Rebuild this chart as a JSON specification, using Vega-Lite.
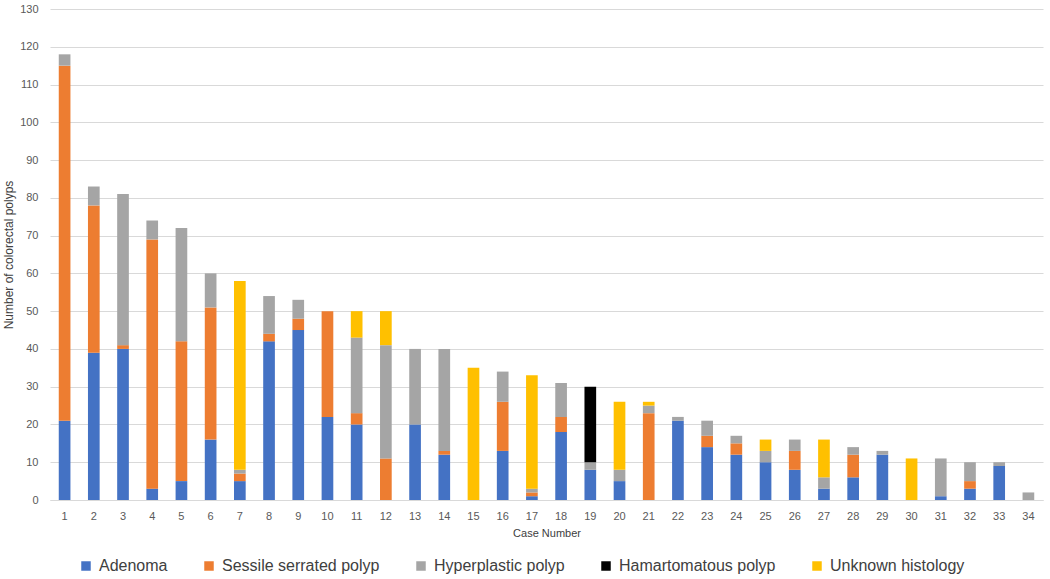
{
  "$schema": "https://vega.github.io/schema/vega-lite/v6.json",
  "width": 993,
  "height": 491,
  "autosize": "none",
  "padding": {"left": 50, "top": 9, "right": 7, "bottom": 79},
  "background": "white",
  "data": {"values": [
    {"case": 1, "type": "Adenoma", "count": 21}, {"case": 1, "type": "Sessile serrated polyp", "count": 94}, {"case": 1, "type": "Hyperplastic polyp", "count": 3},
    {"case": 2, "type": "Adenoma", "count": 39}, {"case": 2, "type": "Sessile serrated polyp", "count": 39}, {"case": 2, "type": "Hyperplastic polyp", "count": 5},
    {"case": 3, "type": "Adenoma", "count": 40}, {"case": 3, "type": "Sessile serrated polyp", "count": 1}, {"case": 3, "type": "Hyperplastic polyp", "count": 40},
    {"case": 4, "type": "Adenoma", "count": 3}, {"case": 4, "type": "Sessile serrated polyp", "count": 66}, {"case": 4, "type": "Hyperplastic polyp", "count": 5},
    {"case": 5, "type": "Adenoma", "count": 5}, {"case": 5, "type": "Sessile serrated polyp", "count": 37}, {"case": 5, "type": "Hyperplastic polyp", "count": 30},
    {"case": 6, "type": "Adenoma", "count": 16}, {"case": 6, "type": "Sessile serrated polyp", "count": 35}, {"case": 6, "type": "Hyperplastic polyp", "count": 9},
    {"case": 7, "type": "Adenoma", "count": 5}, {"case": 7, "type": "Sessile serrated polyp", "count": 2}, {"case": 7, "type": "Hyperplastic polyp", "count": 1}, {"case": 7, "type": "Unknown histology", "count": 50},
    {"case": 8, "type": "Adenoma", "count": 42}, {"case": 8, "type": "Sessile serrated polyp", "count": 2}, {"case": 8, "type": "Hyperplastic polyp", "count": 10},
    {"case": 9, "type": "Adenoma", "count": 45}, {"case": 9, "type": "Sessile serrated polyp", "count": 3}, {"case": 9, "type": "Hyperplastic polyp", "count": 5},
    {"case": 10, "type": "Adenoma", "count": 22}, {"case": 10, "type": "Sessile serrated polyp", "count": 28},
    {"case": 11, "type": "Adenoma", "count": 20}, {"case": 11, "type": "Sessile serrated polyp", "count": 3}, {"case": 11, "type": "Hyperplastic polyp", "count": 20}, {"case": 11, "type": "Unknown histology", "count": 7},
    {"case": 12, "type": "Sessile serrated polyp", "count": 11}, {"case": 12, "type": "Hyperplastic polyp", "count": 30}, {"case": 12, "type": "Unknown histology", "count": 9},
    {"case": 13, "type": "Adenoma", "count": 20}, {"case": 13, "type": "Hyperplastic polyp", "count": 20},
    {"case": 14, "type": "Adenoma", "count": 12}, {"case": 14, "type": "Sessile serrated polyp", "count": 1}, {"case": 14, "type": "Hyperplastic polyp", "count": 27},
    {"case": 15, "type": "Unknown histology", "count": 35},
    {"case": 16, "type": "Adenoma", "count": 13}, {"case": 16, "type": "Sessile serrated polyp", "count": 13}, {"case": 16, "type": "Hyperplastic polyp", "count": 8},
    {"case": 17, "type": "Adenoma", "count": 1}, {"case": 17, "type": "Sessile serrated polyp", "count": 1}, {"case": 17, "type": "Hyperplastic polyp", "count": 1}, {"case": 17, "type": "Unknown histology", "count": 30},
    {"case": 18, "type": "Adenoma", "count": 18}, {"case": 18, "type": "Sessile serrated polyp", "count": 4}, {"case": 18, "type": "Hyperplastic polyp", "count": 9},
    {"case": 19, "type": "Adenoma", "count": 8}, {"case": 19, "type": "Hyperplastic polyp", "count": 2}, {"case": 19, "type": "Hamartomatous polyp", "count": 20},
    {"case": 20, "type": "Adenoma", "count": 5}, {"case": 20, "type": "Hyperplastic polyp", "count": 3}, {"case": 20, "type": "Unknown histology", "count": 18},
    {"case": 21, "type": "Sessile serrated polyp", "count": 23}, {"case": 21, "type": "Hyperplastic polyp", "count": 2}, {"case": 21, "type": "Unknown histology", "count": 1},
    {"case": 22, "type": "Adenoma", "count": 21}, {"case": 22, "type": "Hyperplastic polyp", "count": 1},
    {"case": 23, "type": "Adenoma", "count": 14}, {"case": 23, "type": "Sessile serrated polyp", "count": 3}, {"case": 23, "type": "Hyperplastic polyp", "count": 4},
    {"case": 24, "type": "Adenoma", "count": 12}, {"case": 24, "type": "Sessile serrated polyp", "count": 3}, {"case": 24, "type": "Hyperplastic polyp", "count": 2},
    {"case": 25, "type": "Adenoma", "count": 10}, {"case": 25, "type": "Hyperplastic polyp", "count": 3}, {"case": 25, "type": "Unknown histology", "count": 3},
    {"case": 26, "type": "Adenoma", "count": 8}, {"case": 26, "type": "Sessile serrated polyp", "count": 5}, {"case": 26, "type": "Hyperplastic polyp", "count": 3},
    {"case": 27, "type": "Adenoma", "count": 3}, {"case": 27, "type": "Hyperplastic polyp", "count": 3}, {"case": 27, "type": "Unknown histology", "count": 10},
    {"case": 28, "type": "Adenoma", "count": 6}, {"case": 28, "type": "Sessile serrated polyp", "count": 6}, {"case": 28, "type": "Hyperplastic polyp", "count": 2},
    {"case": 29, "type": "Adenoma", "count": 12}, {"case": 29, "type": "Hyperplastic polyp", "count": 1},
    {"case": 30, "type": "Unknown histology", "count": 11},
    {"case": 31, "type": "Adenoma", "count": 1}, {"case": 31, "type": "Hyperplastic polyp", "count": 10},
    {"case": 32, "type": "Adenoma", "count": 3}, {"case": 32, "type": "Sessile serrated polyp", "count": 2}, {"case": 32, "type": "Hyperplastic polyp", "count": 5},
    {"case": 33, "type": "Adenoma", "count": 9}, {"case": 33, "type": "Hyperplastic polyp", "count": 1},
    {"case": 34, "type": "Hyperplastic polyp", "count": 2}
  ]},
  "transform": [
    {"calculate": "indexof(['Adenoma', 'Sessile serrated polyp', 'Hyperplastic polyp', 'Hamartomatous polyp', 'Unknown histology'], datum.type)", "as": "stackRank"}
  ],
  "mark": {"type": "bar"},
  "encoding": {
    "x": {
      "field": "case", "type": "ordinal", "sort": "ascending",
      "scale": {"paddingInner": 0.6, "paddingOuter": 0.3},
      "axis": {"title": "Case Number", "labelAngle": 0, "ticks": false, "grid": false,
               "domainColor": "#D9D9D9", "labelPadding": 10, "titlePadding": 6}
    },
    "y": {
      "field": "count", "type": "quantitative", "stack": "zero",
      "scale": {"domain": [0, 130], "nice": false},
      "axis": {"title": "Number of colorectal polyps", "values": [0,10,20,30,40,50,60,70,80,90,100,110,120,130],
               "domain": false, "ticks": false, "gridColor": "#D9D9D9", "labelPadding": 12, "titlePadding": 4, "titleFontSize": 12}
    },
    "color": {
      "field": "type", "type": "nominal",
      "scale": {
        "domain": ["Adenoma", "Sessile serrated polyp", "Hyperplastic polyp", "Hamartomatous polyp", "Unknown histology"],
        "range": ["#4472C4", "#ED7D31", "#A5A5A5", "#000000", "#FFC000"]
      },
      "legend": {
        "title": null, "orient": "none", "direction": "horizontal",
        "legendX": 28, "legendY": 549,
        "symbolType": "square", "symbolSize": 90, "symbolStrokeWidth": 0,
        "labelFontSize": 16, "labelColor": "#404040", "labelFont": "Liberation Sans",
        "columnPadding": 33, "labelOffset": 5, "padding": 0
      }
    },
    "order": {"field": "stackRank", "type": "quantitative", "sort": "ascending"}
  },
  "config": {
    "view": {"stroke": null},
    "font": "Liberation Sans",
    "axis": {"labelFontSize": 11, "titleFontSize": 11, "labelColor": "#595959", "titleColor": "#404040",
             "titleFontWeight": "normal", "labelFont": "Liberation Sans", "titleFont": "Liberation Sans"}
  }
}
